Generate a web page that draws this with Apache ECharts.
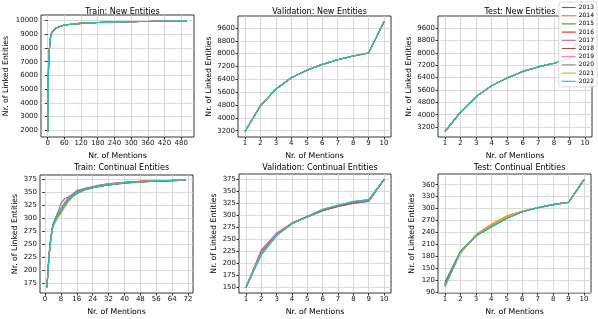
<!DOCTYPE html>
<html><head><meta charset="utf-8">
<script src="https://cdn.jsdelivr.net/npm/echarts@6/dist/echarts.min.js"></script>
<style>html,body{margin:0;padding:0;background:#fff}#c{width:598px;height:319px}</style>
</head><body><div id="c"></div>
<script>
const years = ['2013','2014','2015','2016','2017','2018','2019','2020','2021','2022'];
const colors = ['#1f77b4','#ff7f0e','#2ca02c','#d62728','#9467bd','#8c564b','#e377c2','#7f7f7f','#bcbd22','#17becf'];

// Train: New Entities (all years overlap)
const trainNewX = [1,2,3,4,6,8,12,20,30,45,60,90,120,180,240,300,360,420,500];
const trainNewY = [1900,5000,6500,7200,7900,8300,9000,9250,9450,9580,9680,9750,9800,9860,9900,9920,9940,9955,9980];

const mentionsX = [1,2,3,4,5,6,7,8,9,10];
// Validation / Test: New Entities (all years overlap)
const valNewY = [3150,4750,5790,6500,6970,7330,7620,7850,8040,10000];
const testNewY = [2920,4170,5170,5880,6380,6800,7090,7330,7600,10000];

// Train: Continual Entities
const trainContX = [1,2,3,4,5,6,7,8,10,12,14,16,20,24,28,32,40,48,56,64,71];
const trainContY = [
  [168,228,264,285,295,303,309,313,324,335,343,348,355,359,362,364,368,370,371,372,373],
  [167,226,263,286,296,304,310,316,328,338,345,350,356,360,363,365,368,371,372,373,374],
  [166,224,261,283,292,299,305,310,322,333,341,347,354,358,361,364,367,369,371,372,373],
  [167,227,263,285,294,302,309,316,329,339,345,350,356,360,363,366,369,371,372,373,374],
  [168,229,265,287,297,305,312,318,331,340,346,351,357,361,364,366,369,371,372,373,374],
  [167,226,262,284,293,300,306,312,325,336,343,348,355,359,362,364,367,370,371,372,373],
  [166,225,262,285,295,303,310,317,330,339,345,350,356,360,363,365,368,370,372,373,374],
  [167,227,265,288,298,307,316,328,338,341,346,353,357,360,362,364,368,370,371,373,374],
  [166,224,261,283,291,298,304,309,323,334,342,348,355,359,362,365,368,370,372,373,374],
  [167,225,262,284,293,301,308,314,327,337,344,349,355,359,362,365,368,370,372,373,374]
];
// Validation: Continual Entities
const valContY = [
  [151,222,260,283,297,310,319,326,330,374],
  [150,220,259,282,296,311,320,327,331,374],
  [151,224,261,284,297,311,320,328,331,374],
  [150,226,262,283,296,309,318,325,329,374],
  [151,228,263,283,296,309,318,324,328,374],
  [150,223,260,282,297,310,319,326,330,374],
  [151,225,262,284,297,311,321,327,330,374],
  [150,221,259,283,297,311,320,327,331,374],
  [150,219,258,282,297,312,321,328,332,374],
  [150,217,257,282,297,312,320,328,332,374]
];
// Test: Continual Entities
const testContY = [
  [108,192,232,256,277,292,302,310,316,373],
  [106,187,235,261,282,294,303,310,315,373],
  [109,191,232,257,278,292,302,310,316,373],
  [115,193,231,254,276,292,302,310,316,373],
  [112,192,232,256,277,292,303,310,316,373],
  [110,191,231,255,276,292,302,310,316,373],
  [107,190,232,257,278,293,302,310,316,373],
  [109,192,231,255,276,292,302,310,316,373],
  [105,189,233,258,279,293,303,310,315,373],
  [103,193,231,254,275,292,302,310,316,373]
];

// tick labels
const ticksTrainNewX = [0,60,120,180,240,300,360,420,480];
const ticksTrainNewY = [2000,3000,4000,5000,6000,7000,8000,9000,10000];
const ticksMentions = [1,2,3,4,5,6,7,8,9,10];
const ticksNewY = [3200,4000,4800,5600,6400,7200,8000,8800,9600];
const ticksTrainContX = [0,8,16,24,32,40,48,56,64,72];
const ticksTrainContY = [175,200,225,250,275,300,325,350,375];
const ticksValContY = [150,175,200,225,250,275,300,325,350,375];
const ticksTestContY = [90,120,150,180,210,240,270,300,330,360];

const titles = ['Train: New Entities','Validation: New Entities','Test: New Entities',
  'Train: Continual Entities','Validation: Continual Entities','Test: Continual Entities'];

const FONT = 'DejaVu Sans';
const grids = [
  {left:41, top:15, width:153, height:122},
  {left:238, top:16, width:153, height:121},
  {left:438, top:16, width:154, height:121},
  {left:40, top:175, width:153, height:118},
  {left:239, top:174, width:152, height:119},
  {left:438, top:174, width:153, height:119}
];
const xr = [[-24,526],[0.55,10.45],[0.55,10.45],[-2.5,74.5],[0.55,10.45],[0.55,10.45]];
const yr = [[1500,10410],[2808,10342],[2560,10380],[156,383],[139,385],[88,387]];
const xt = [ticksTrainNewX,ticksMentions,ticksMentions,ticksTrainContX,ticksMentions,ticksMentions];
const yt = [ticksTrainNewY,ticksNewY,ticksNewY,ticksTrainContY,ticksValContY,ticksTestContY];
const yNameGap = [31,23,24,21,21,22];

function axis(i, isX) {
  const r = isX ? xr[i] : yr[i];
  const t = isX ? xt[i] : yt[i];
  return {
    type:'value', gridIndex:i, min:r[0], max:r[1],
    name: isX ? 'Nr. of Mentions' : 'Nr. of Linked Entities',
    nameLocation:'middle', nameGap: isX ? 15 : yNameGap[i],
    nameTextStyle:{fontFamily:FONT, fontSize:7.8, color:'#000'},
    axisLine:{show:false},
    axisTick:{show:true, length:2.5, customValues:t, lineStyle:{color:'#000', width:0.8}},
    axisLabel:{customValues:t, formatter: v => String(v), fontFamily:FONT, fontSize:7, color:'#111', margin:3},
    splitLine:{show:true, lineStyle:{color:'#cfcfcf', width:0.8}}
  };
}

const xAxis = [], yAxis = [], title = [];
for (let i = 0; i < 6; i++) {
  xAxis.push(axis(i, true));
  yAxis.push(axis(i, false));
  title.push({text:titles[i], left: grids[i].left + grids[i].width/2, top: i < 3 ? 3 : 159,
    textAlign:'center', textStyle:{fontFamily:FONT, fontSize:8, fontWeight:'normal', color:'#000'}});
}

function pts(xs, ys) { return xs.map((x, k) => [x, ys[k]]); }

const series = [];
years.forEach((y, j) => {
  const sets = [
    pts(trainNewX, trainNewY), pts(mentionsX, valNewY), pts(mentionsX, testNewY),
    pts(trainContX, trainContY[j]), pts(mentionsX, valContY[j]), pts(mentionsX, testContY[j])
  ];
  sets.forEach((d, i) => {
    series.push({name:y, type:'line', xAxisIndex:i, yAxisIndex:i, data:d,
      showSymbol:false, symbol:'none', animation:false, smooth: i === 0 ? 0.3 : false,
      lineStyle:{color:colors[j], width:1.1}, itemStyle:{color:colors[j]}});
  });
});

const chart = echarts.init(document.getElementById('c'), null, {renderer:'canvas'});
chart.setOption({
  animation:false,
  backgroundColor:'#fff',
  title: title,
  grid: grids.map(g => Object.assign({show:true, borderColor:'#000', borderWidth:0.8, backgroundColor:'transparent', containLabel:false}, g)),
  xAxis, yAxis, series,
  legend: {
    data: years, orient:'vertical', right:1, top:2,
    backgroundColor:'rgba(255,255,255,0.85)', borderColor:'#d0d0d0', borderWidth:0.8, borderRadius:2,
    padding:[2,3,2,3], itemGap:1.2, itemWidth:14, itemHeight:7,
    icon:'path://M0,3.3 L14,3.3 L14,4.4 L0,4.4 Z',
    textStyle:{fontFamily:FONT, fontSize:6, color:'#000', padding:[0,0,0,-2], lineHeight:7}
  }
});
</script></body></html>
